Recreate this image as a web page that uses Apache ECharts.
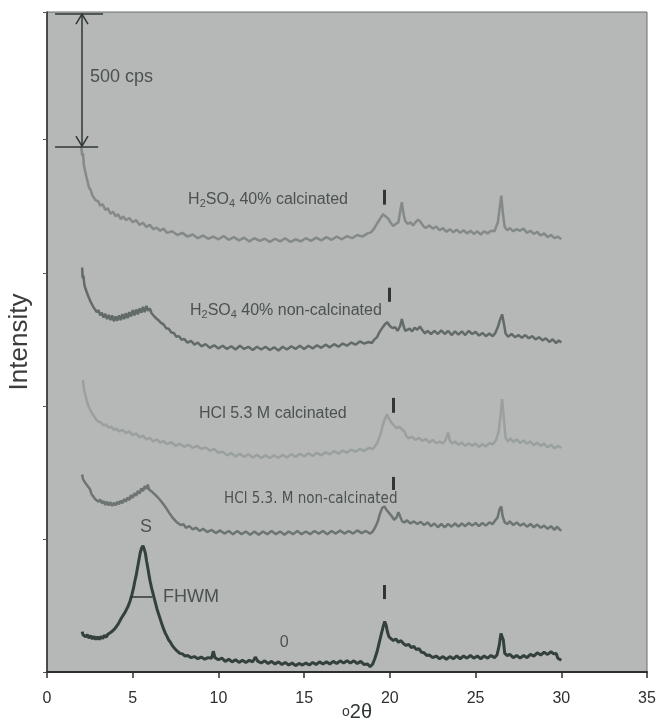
<!DOCTYPE html>
<html>
<head>
<meta charset="utf-8">
<script src="https://cdn.jsdelivr.net/npm/echarts/dist/echarts.min.js"></script>
<style>
  html, body { margin: 0; padding: 0; background: #fff; }
  #main { width: 657px; height: 724px; }
</style>
</head>
<body>
<div id="main"></div>
<script>
// XRD patterns, [°2θ, cps]
const h2so4Calc = [[2.0,1975],[2.05,1940],[2.1,1950],[2.15,1905],[2.2,1890],[2.3,1860],[2.35,1848],[2.45,1820],[2.55,1812],[2.65,1790],[2.75,1795],[2.85,1772],[3.0,1768],[3.1,1752],[3.25,1758],[3.4,1736],[3.55,1742],[3.7,1722],[3.85,1730],[4.0,1712],[4.15,1720],[4.3,1702],[4.45,1712],[4.6,1698],[4.8,1706],[5.0,1690],[5.2,1698],[5.4,1680],[5.6,1688],[5.8,1672],[6.0,1680],[6.2,1664],[6.4,1670],[6.6,1658],[6.8,1666],[7.0,1650],[7.3,1656],[7.6,1642],[7.9,1650],[8.2,1636],[8.5,1644],[8.8,1630],[9.1,1640],[9.4,1628],[9.7,1636],[10.0,1626],[10.3,1638],[10.6,1624],[10.9,1634],[11.2,1622],[11.5,1632],[11.8,1618],[12.1,1630],[12.4,1620],[12.7,1628],[13.0,1616],[13.3,1628],[13.6,1618],[13.9,1630],[14.2,1616],[14.5,1626],[14.8,1618],[15.1,1630],[15.4,1620],[15.7,1632],[16.0,1622],[16.3,1634],[16.6,1624],[16.9,1636],[17.2,1626],[17.5,1638],[17.8,1630],[18.1,1642],[18.4,1636],[18.7,1648],[18.9,1652],[19.1,1668],[19.3,1690],[19.45,1705],[19.6,1720],[19.75,1712],[19.9,1704],[20.05,1688],[20.2,1676],[20.35,1684],[20.5,1690],[20.6,1730],[20.7,1765],[20.8,1720],[20.9,1694],[21.05,1684],[21.2,1690],[21.35,1678],[21.5,1690],[21.65,1700],[21.8,1690],[21.95,1676],[22.1,1668],[22.3,1678],[22.5,1666],[22.7,1674],[22.9,1660],[23.1,1668],[23.3,1654],[23.5,1664],[23.7,1652],[23.9,1662],[24.1,1650],[24.3,1660],[24.5,1648],[24.7,1658],[24.9,1646],[25.1,1656],[25.3,1644],[25.5,1656],[25.7,1648],[25.9,1658],[26.1,1656],[26.3,1690],[26.4,1740],[26.5,1790],[26.6,1720],[26.7,1672],[26.85,1660],[27.0,1668],[27.2,1656],[27.4,1664],[27.6,1658],[27.8,1666],[28.0,1650],[28.2,1658],[28.4,1646],[28.6,1654],[28.8,1640],[29.0,1648],[29.2,1634],[29.4,1642],[29.6,1630],[29.8,1636],[30.0,1626]];

const h2so4NonCalc = [[2.05,1520],[2.08,1480],[2.12,1490],[2.18,1455],[2.25,1440],[2.33,1425],[2.42,1410],[2.5,1398],[2.6,1384],[2.7,1372],[2.8,1366],[2.9,1352],[3.0,1360],[3.1,1340],[3.2,1350],[3.3,1332],[3.4,1346],[3.5,1326],[3.6,1342],[3.7,1322],[3.8,1340],[3.9,1318],[4.0,1336],[4.1,1320],[4.2,1340],[4.3,1322],[4.4,1345],[4.5,1326],[4.6,1348],[4.7,1330],[4.8,1352],[4.9,1336],[5.0,1360],[5.1,1340],[5.2,1362],[5.3,1344],[5.4,1366],[5.5,1350],[5.6,1372],[5.7,1352],[5.8,1376],[5.9,1358],[6.0,1366],[6.1,1348],[6.2,1344],[6.35,1330],[6.5,1322],[6.65,1312],[6.8,1306],[6.95,1292],[7.1,1290],[7.25,1276],[7.4,1274],[7.55,1260],[7.7,1262],[7.85,1248],[8.0,1252],[8.2,1238],[8.4,1244],[8.6,1230],[8.8,1238],[9.0,1224],[9.25,1232],[9.5,1218],[9.75,1228],[10.0,1216],[10.25,1226],[10.5,1214],[10.75,1224],[11.0,1212],[11.25,1226],[11.5,1214],[11.75,1222],[12.0,1210],[12.25,1222],[12.5,1212],[12.75,1222],[13.0,1210],[13.25,1220],[13.5,1208],[13.75,1222],[14.0,1212],[14.25,1224],[14.5,1214],[14.75,1226],[15.0,1214],[15.25,1226],[15.5,1216],[15.75,1228],[16.0,1218],[16.25,1230],[16.5,1220],[16.75,1232],[17.0,1222],[17.25,1234],[17.5,1226],[17.75,1238],[18.0,1230],[18.25,1242],[18.5,1234],[18.75,1240],[18.95,1236],[19.1,1250],[19.25,1258],[19.4,1278],[19.55,1292],[19.7,1306],[19.85,1314],[20.0,1300],[20.15,1292],[20.3,1296],[20.45,1282],[20.6,1300],[20.7,1326],[20.8,1300],[20.9,1282],[21.0,1276],[21.15,1290],[21.3,1280],[21.45,1294],[21.6,1286],[21.75,1298],[21.9,1284],[22.05,1272],[22.2,1282],[22.4,1270],[22.6,1282],[22.8,1270],[23.0,1284],[23.2,1270],[23.4,1282],[23.6,1266],[23.8,1280],[24.0,1268],[24.2,1280],[24.4,1266],[24.6,1282],[24.8,1270],[25.0,1278],[25.2,1264],[25.4,1274],[25.6,1262],[25.8,1272],[26.0,1262],[26.15,1274],[26.3,1296],[26.42,1322],[26.55,1344],[26.65,1310],[26.75,1272],[26.9,1260],[27.1,1270],[27.3,1258],[27.5,1266],[27.7,1256],[27.9,1266],[28.1,1254],[28.3,1262],[28.5,1250],[28.7,1258],[28.9,1246],[29.1,1254],[29.3,1240],[29.5,1250],[29.7,1236],[29.85,1246],[30.0,1238]];

const hclCalc = [[2.1,1098],[2.13,1075],[2.17,1060],[2.22,1045],[2.3,1025],[2.4,1002],[2.5,988],[2.6,975],[2.7,966],[2.8,955],[2.9,950],[3.0,940],[3.15,938],[3.3,926],[3.45,930],[3.6,918],[3.75,922],[3.9,910],[4.05,914],[4.2,904],[4.4,910],[4.6,898],[4.8,904],[5.0,890],[5.2,896],[5.4,882],[5.6,888],[5.8,874],[6.0,880],[6.2,866],[6.4,874],[6.6,862],[6.8,868],[7.0,856],[7.25,864],[7.5,850],[7.75,858],[8.0,846],[8.25,854],[8.5,842],[8.75,850],[9.0,838],[9.25,844],[9.5,832],[9.75,838],[10.0,824],[10.25,828],[10.5,814],[10.75,822],[11.0,810],[11.25,820],[11.5,808],[11.75,818],[12.0,806],[12.25,816],[12.5,804],[12.75,814],[13.0,804],[13.25,814],[13.5,804],[13.75,816],[14.0,806],[14.25,818],[14.5,808],[14.75,820],[15.0,810],[15.25,822],[15.5,812],[15.75,824],[16.0,814],[16.25,826],[16.5,818],[16.75,830],[17.0,820],[17.25,832],[17.5,824],[17.75,836],[18.0,828],[18.25,838],[18.5,830],[18.75,842],[19.0,838],[19.15,850],[19.3,866],[19.45,892],[19.6,930],[19.72,952],[19.84,968],[19.95,952],[20.1,936],[20.25,926],[20.4,916],[20.55,922],[20.7,912],[20.85,904],[20.95,888],[21.1,878],[21.3,884],[21.5,872],[21.7,880],[21.9,868],[22.1,876],[22.3,862],[22.5,872],[22.7,860],[22.9,866],[23.1,858],[23.25,872],[23.4,900],[23.5,870],[23.65,858],[23.8,866],[24.0,854],[24.2,862],[24.4,850],[24.6,860],[24.8,850],[25.0,858],[25.2,846],[25.4,856],[25.6,848],[25.8,860],[26.0,856],[26.2,872],[26.35,905],[26.45,960],[26.55,1025],[26.65,950],[26.75,880],[26.9,866],[27.05,878],[27.2,864],[27.4,874],[27.6,860],[27.8,870],[28.0,858],[28.2,866],[28.4,852],[28.6,862],[28.8,850],[29.0,858],[29.2,844],[29.4,854],[29.6,840],[29.8,850],[30.0,842]];

const hclNonCalc = [[2.05,742],[2.1,725],[2.15,732],[2.22,712],[2.3,716],[2.4,696],[2.5,688],[2.6,668],[2.7,660],[2.8,650],[2.9,654],[3.0,640],[3.1,648],[3.2,634],[3.3,642],[3.4,628],[3.5,640],[3.6,626],[3.7,638],[3.8,624],[3.9,636],[4.0,626],[4.1,640],[4.2,630],[4.3,644],[4.4,634],[4.5,650],[4.6,640],[4.7,656],[4.8,646],[4.9,664],[5.0,654],[5.1,672],[5.2,662],[5.3,680],[5.4,670],[5.5,690],[5.6,680],[5.7,698],[5.8,688],[5.88,704],[5.95,686],[6.05,690],[6.15,676],[6.25,680],[6.35,664],[6.45,666],[6.55,650],[6.65,652],[6.75,634],[6.85,632],[6.95,616],[7.05,612],[7.15,596],[7.25,592],[7.35,578],[7.45,576],[7.55,564],[7.65,566],[7.8,552],[7.95,556],[8.1,542],[8.3,548],[8.5,536],[8.7,542],[8.9,530],[9.1,538],[9.35,526],[9.6,534],[9.85,522],[10.1,532],[10.35,520],[10.6,530],[10.85,518],[11.1,530],[11.35,518],[11.6,528],[11.85,516],[12.1,528],[12.35,516],[12.6,528],[12.85,518],[13.1,530],[13.35,518],[13.6,528],[13.85,516],[14.1,528],[14.35,518],[14.6,530],[14.85,518],[15.1,528],[15.35,518],[15.6,530],[15.85,520],[16.1,530],[16.35,518],[16.6,530],[16.85,520],[17.1,532],[17.35,520],[17.6,530],[17.85,520],[18.1,532],[18.35,522],[18.6,530],[18.85,520],[19.0,528],[19.15,544],[19.3,566],[19.42,594],[19.55,616],[19.68,622],[19.8,610],[19.95,598],[20.1,586],[20.25,572],[20.38,580],[20.5,600],[20.6,584],[20.72,566],[20.85,562],[21.0,570],[21.2,558],[21.4,566],[21.6,556],[21.8,564],[22.0,552],[22.2,562],[22.4,548],[22.6,558],[22.8,544],[23.0,556],[23.2,544],[23.4,556],[23.6,546],[23.8,558],[24.0,546],[24.2,558],[24.4,548],[24.6,560],[24.8,550],[25.0,560],[25.2,548],[25.4,560],[25.6,550],[25.8,562],[26.0,556],[26.15,570],[26.28,580],[26.4,612],[26.5,622],[26.58,585],[26.7,562],[26.85,556],[27.0,566],[27.2,552],[27.4,562],[27.6,550],[27.8,558],[28.0,546],[28.2,556],[28.4,544],[28.6,554],[28.8,542],[29.0,550],[29.2,538],[29.4,548],[29.6,534],[29.75,546],[29.9,536],[30.0,530]];

const raw = [[2.05,152],[2.1,140],[2.18,146],[2.26,132],[2.35,140],[2.45,128],[2.55,136],[2.65,124],[2.75,134],[2.85,122],[2.95,132],[3.05,122],[3.15,134],[3.25,126],[3.35,138],[3.45,130],[3.55,142],[3.65,136],[3.75,150],[3.85,146],[3.95,162],[4.05,162],[4.15,180],[4.25,184],[4.35,204],[4.45,206],[4.55,224],[4.65,228],[4.75,250],[4.85,268],[4.95,290],[5.05,316],[5.12,340],[5.2,362],[5.28,392],[5.36,420],[5.44,448],[5.52,466],[5.6,474],[5.67,462],[5.74,446],[5.8,420],[5.88,392],[5.95,364],[6.02,340],[6.1,316],[6.18,296],[6.26,276],[6.34,256],[6.42,236],[6.5,220],[6.6,200],[6.7,180],[6.8,162],[6.9,146],[7.0,134],[7.1,120],[7.2,112],[7.3,100],[7.4,94],[7.5,84],[7.6,80],[7.75,70],[7.9,68],[8.05,60],[8.2,62],[8.4,54],[8.6,58],[8.8,50],[9.0,56],[9.2,48],[9.4,54],[9.6,52],[9.7,78],[9.8,54],[10.0,46],[10.2,52],[10.4,40],[10.6,48],[10.8,38],[11.0,46],[11.2,36],[11.4,44],[11.6,36],[11.8,44],[12.0,38],[12.15,56],[12.3,40],[12.5,34],[12.7,42],[12.9,32],[13.1,40],[13.3,30],[13.5,38],[13.7,28],[13.9,36],[14.1,26],[14.3,34],[14.5,24],[14.7,32],[14.9,26],[15.1,34],[15.3,26],[15.5,36],[15.7,28],[15.9,38],[16.1,30],[16.3,38],[16.5,30],[16.7,40],[16.9,32],[17.1,42],[17.3,34],[17.5,42],[17.7,34],[17.9,42],[18.1,32],[18.3,40],[18.5,28],[18.7,30],[18.85,20],[19.0,30],[19.12,50],[19.25,76],[19.38,110],[19.5,142],[19.6,168],[19.7,190],[19.78,176],[19.86,150],[19.95,132],[20.05,126],[20.2,118],[20.35,124],[20.5,112],[20.65,118],[20.8,106],[20.95,100],[21.1,104],[21.25,92],[21.4,96],[21.55,84],[21.7,88],[21.85,74],[22.0,72],[22.15,62],[22.3,64],[22.5,54],[22.7,60],[22.9,50],[23.1,58],[23.3,48],[23.5,58],[23.7,50],[23.9,60],[24.1,50],[24.3,60],[24.5,52],[24.7,62],[24.9,52],[25.1,60],[25.3,50],[25.5,60],[25.7,52],[25.9,62],[26.1,54],[26.25,64],[26.38,100],[26.48,145],[26.55,152],[26.62,120],[26.7,70],[26.85,62],[27.0,66],[27.2,54],[27.4,62],[27.6,52],[27.8,62],[28.0,54],[28.2,66],[28.4,60],[28.6,72],[28.8,64],[29.0,74],[29.2,66],[29.4,76],[29.55,68],[29.7,70],[29.8,52],[29.9,56],[30.0,44]];

// the "500 cps" scale bar, drawn in data units
const scaleBar = [
  [[2.04, 2474], [2.04, 1974]],
  [[0.47, 2474], [3.27, 2474]],
  [[0.47, 1974], [2.98, 1974]],
  [[1.69, 2434], [2.04, 2472]], [[2.39, 2434], [2.04, 2472]],
  [[1.69, 2014], [2.04, 1976]], [[2.39, 2014], [2.04, 1976]]
];
// "I" marks above the 19.7° peaks
const peakMarks = [
  [[19.66, 1812], [19.66, 1756]],
  [[19.95, 1444], [19.95, 1391]],
  [[20.19, 1030], [20.19, 974]],
  [[20.19, 733], [20.19, 684]],
  [[19.66, 327], [19.66, 274]]
];
const fwhmLine = [[4.84, 282], [6.15, 282]];

const ink = '#2f3734';

const segs = (list, width) => list.map(s => [
  { coord: s[0], lineStyle: { color: ink, width: width, type: 'solid' } },
  { coord: s[1] }
]);

const sub = { fontSize: 11, verticalAlign: 'bottom', lineHeight: 11, color: ink, fontFamily: 'Liberation Sans, Arial, sans-serif' };
const nrm = { fontSize: 16, lineHeight: 20, color: ink, fontFamily: 'Liberation Sans, Arial, sans-serif' };

const notes = [
  { value: [8.23, 1775], label: { formatter: '{n|H}{s|2}{n|SO}{s|4}{n| 40% calcinated}' } },
  { value: [8.34, 1357], label: { formatter: '{n|H}{s|2}{n|SO}{s|4}{n| 40% non-calcinated}' } },
  { value: [8.87, 970], label: { formatter: '{n|HCl 5.3 M calcinated}' } },
  { value: [10.33, 650], label: { formatter: 'HCl 5.3. M non-calcinated', fontFamily: "'Liberation Sans Narrow', 'DejaVu Sans Condensed', sans-serif", fontSize: 15 } },
  { value: [5.78, 545], label: { formatter: 'S', position: 'inside', fontSize: 18 } },
  { value: [6.77, 282], label: { formatter: 'FHWM', fontSize: 18 } },
  { value: [13.83, 109], label: { formatter: '0', position: 'inside', fontSize: 16 } },
  { value: [2.51, 2237], label: { formatter: '500 cps', fontSize: 18 } }
];

const chart = echarts.init(document.getElementById('main'));

const curve = (name, data, color, width) => ({
  name: name,
  type: 'line',
  data: data,
  showSymbol: false,
  symbol: 'none',
  silent: true,
  lineStyle: { color: color, width: width },
  z: 3
});

const option = {
  animation: false,
  backgroundColor: '#fff',
  textStyle: { fontFamily: 'Liberation Sans, Arial, sans-serif' },
  grid: {
    left: 47, right: 10, top: 12, bottom: 52,
    outerBoundsMode: 'none',
    show: true,
    backgroundColor: '#b5b8b6',
    borderColor: '#6a6f6d',
    borderWidth: 1
  },
  xAxis: {
    type: 'value',
    min: 0, max: 35, interval: 5,
    name: '{o|o}2θ',
    nameLocation: 'middle',
    nameGap: 30,
    nameMoveOverlap: false,
    nameTextStyle: {
      fontSize: 20, color: ink, padding: [0, 0, 0, 20],
      rich: { o: { fontSize: 14, color: ink } }
    },
    axisLine: { show: true, lineStyle: { color: '#2c2f2e', width: 2 } },
    axisTick: { show: true, inside: false, length: 6, lineStyle: { color: '#2c2f2e', width: 1.5 } },
    axisLabel: { fontSize: 16, color: '#2f2f2f', margin: 19, showMinLabel: true, showMaxLabel: true },
    splitLine: { show: false }
  },
  yAxis: {
    type: 'value',
    min: 0, max: 2480, interval: 500,
    name: 'Intensity',
    nameLocation: 'middle',
    nameGap: 14,
    nameMoveOverlap: false,
    nameTextStyle: { fontSize: 26, color: '#3c3c3c' },
    axisLine: { show: true, lineStyle: { color: '#2c2f2e', width: 1.5 } },
    axisTick: { show: true, inside: false, length: 4, lineStyle: { color: '#555' } },
    axisLabel: { show: false },
    splitLine: { show: false }
  },
  series: [
    curve('H2SO4 40% calcinated', h2so4Calc, '#848a87', 2.5),
    curve('H2SO4 40% non-calcinated', h2so4NonCalc, '#636b68', 2.5),
    curve('HCl 5.3 M calcinated', hclCalc, '#9aa09d', 2.5),
    curve('HCl 5.3 M non-calcinated', hclNonCalc, '#6d7572', 2.5),
    {
      name: 'untreated',
      type: 'line',
      data: raw,
      showSymbol: false,
      symbol: 'none',
      silent: true,
      lineStyle: { color: '#33403c', width: 3 },
      z: 4,
      markLine: {
        silent: true,
        symbol: ['none', 'none'],
        label: { show: false },
        emphasis: { disabled: true },
        animation: false,
        data: segs(scaleBar, 1.5)
          .concat(segs(peakMarks, 3))
          .concat(segs([fwhmLine], 1.5))
      }
    },
    {
      name: 'notes',
      type: 'scatter',
      symbolSize: 0,
      silent: true,
      z: 5,
      label: {
        show: true,
        position: 'right',
        distance: 0,
        color: ink,
        fontSize: 16,
        rich: { n: nrm, s: sub }
      },
      data: notes
    }
  ]
};

chart.setOption(option);
</script>
</body>
</html>
